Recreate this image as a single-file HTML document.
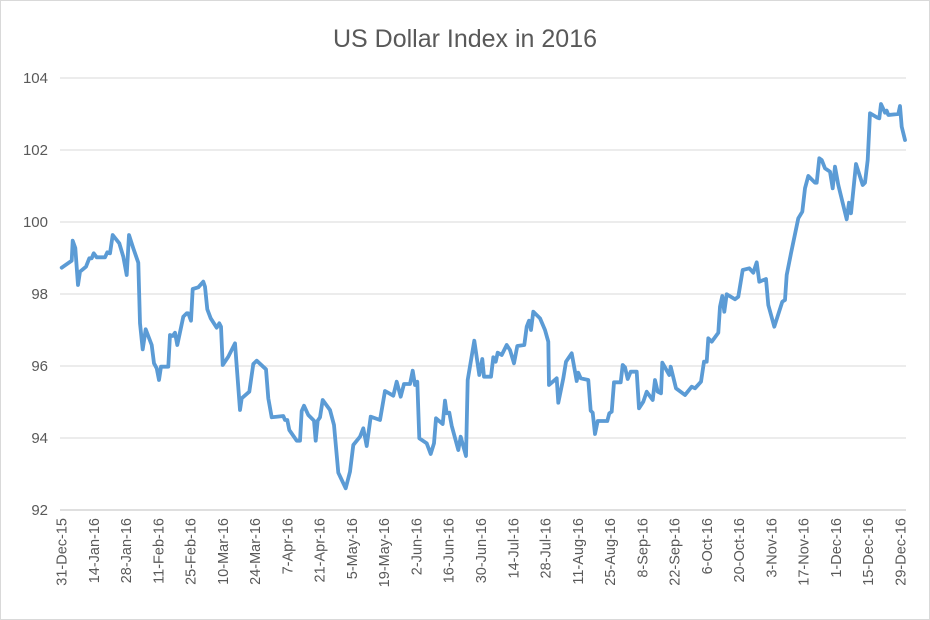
<!DOCTYPE html>
<html><head><meta charset="utf-8"><style>
body{margin:0;background:#fff}
svg{display:block;font-family:"Liberation Sans",sans-serif}
</style></head><body>
<svg width="930" height="620" viewBox="0 0 930 620">
<rect x="0.5" y="0.5" width="929" height="619" fill="#fff" stroke="#d9d9d9"/>
<text x="465" y="47" text-anchor="middle" font-size="25" fill="#595959">US Dollar Index in 2016</text>
<g stroke="#d9d9d9" stroke-width="1">
<line x1="60" y1="78" x2="906" y2="78"/><line x1="60" y1="150" x2="906" y2="150"/>
<line x1="60" y1="222" x2="906" y2="222"/><line x1="60" y1="294" x2="906" y2="294"/>
<line x1="60" y1="366" x2="906" y2="366"/><line x1="60" y1="438" x2="906" y2="438"/>
</g>
<line x1="60" y1="510" x2="906" y2="510" stroke="#bfbfbf"/>
<g font-size="15" fill="#595959" text-anchor="end">
<text x="48" y="83">104</text><text x="48" y="155">102</text><text x="48" y="227">100</text>
<text x="48" y="299">98</text><text x="48" y="371">96</text><text x="48" y="443">94</text><text x="48" y="515">92</text>
</g>
<polyline fill="none" stroke="#5b9bd5" stroke-width="3.8" stroke-linejoin="round" stroke-linecap="round" points="
61.7,267.7 71.7,260.7 72.7,240.7 75.3,248 78,285 80,271.7 86,266.7 89.3,258.3 91.7,258.3 93.7,253.3 96.7,257.3 105,257.3 107.3,252.3 110,253.3 112.7,235 119.3,243.3 123.3,256.7 126.7,275 129,235 133.3,248.3 138.3,262.7 140,323.3 142.7,349.3 145.7,329.3 151.7,345 154,363.3 156.7,368.3 159,380 161,366.7 168.3,366.7 170,335 172.7,336 175,332.7 177.3,345 183.3,316.7 186.7,313.3 188.3,313.3 191,320.7 192.7,289 198.3,287.3 203.3,281.7 205,286.7 207.3,309.3 210.7,318.3 216.7,327.7 219.3,323.3 221,326.7 222.7,365 228.3,356.7 235,343.3 240,410 241.7,398.3 249.3,391.7 253.3,364 256.7,360.7 266,369.3 268.3,398.3 271.7,417.3 276.7,416.7 283.3,416 285,420 287.3,420 289.3,430 296.7,440.7 300,440.7 301.7,411 304,405.7 308.3,415 314,420.7 315.7,440.7 317.7,420.7 320,417.3 322.7,400 330,410 334,425 338.3,472.7 345.7,488.3 350,471.7 353.3,445 360,436.7 363.3,428.3 366.7,446 370.7,416.7 380,420 385,391 393.3,395.7 396.7,381.7 400.7,396.7 404,384 410,384 412.7,370.7 415,385 417.3,381.7 419.3,438.3 426.7,443.3 430.7,454 434,443.3 436,418.3 442.7,424 445,400.7 446.7,413.3 449.3,412.7 451.7,425.7 458.3,450 460.7,436.7 466,456 467.7,380 474.3,340.7 479.3,375 482.3,359 484,376.7 491,376.7 493.3,357.3 495.7,361.7 497.7,352.7 501.7,355 506.7,345 510,350 514,363.3 517.3,346 524.3,345 526.7,326.7 529,320.7 531,330 533.3,311.7 540,318.3 545,330 548.3,341.7 549,385 556.7,378.3 558.3,402.7 563.3,378.3 566,361.7 571.7,353.3 576.7,381 578.3,372.7 580.7,378.3 588.3,380 590.7,410.7 592.7,412.7 595,434 597.7,421 607.3,421 609.3,413.3 611.7,411.7 614,382.3 620.7,382.3 622.7,365 625,367.3 627.7,379 630.7,371.7 636.7,371.7 639,408.3 643.3,401.7 646.7,391.7 652.7,400 655,380 657.7,391.7 661,393.3 662.3,362.7 669.3,375 670.7,366.7 676,388.3 685,395 691.7,386.7 695,388.3 701,381.7 704,361.7 706.7,361.7 708.3,338.3 711.7,341.7 718.3,332.7 720,306.7 722.3,296 724.3,311.7 726.7,294.3 735,299.3 738.3,296.7 742.7,270 749.3,268.3 753.3,272.7 756.7,262.3 759.3,281.7 766,279 768.3,305 774.3,326.7 782.3,301.7 785,300 786.7,275 791,253.3 798.3,218.3 802.3,211.7 805,188.3 808.3,176 815,182.7 816.7,182.7 819.3,158.3 821.7,160 825,168.3 830,171.7 832.7,188.3 835,166.7 838.3,185 846.7,219.3 849,202.7 851,213.3 856,164 862.7,185 865,182.7 867.7,160 870,113.3 876.7,117.3 879.3,118.3 881,104 885,112.7 886.7,110.7 888.3,115 898.3,114 900,106 901.7,126.7 905,140"/>
<g font-size="14.5" fill="#595959" text-anchor="end">
<text transform="translate(66.5,518) rotate(-90)">31-Dec-15</text>
<text transform="translate(98.8,518) rotate(-90)">14-Jan-16</text>
<text transform="translate(131,518) rotate(-90)">28-Jan-16</text>
<text transform="translate(163.3,518) rotate(-90)">11-Feb-16</text>
<text transform="translate(195.6,518) rotate(-90)">25-Feb-16</text>
<text transform="translate(227.9,518) rotate(-90)">10-Mar-16</text>
<text transform="translate(260.1,518) rotate(-90)">24-Mar-16</text>
<text transform="translate(292.4,518) rotate(-90)">7-Apr-16</text>
<text transform="translate(324.7,518) rotate(-90)">21-Apr-16</text>
<text transform="translate(356.9,518) rotate(-90)">5-May-16</text>
<text transform="translate(389.2,518) rotate(-90)">19-May-16</text>
<text transform="translate(421.5,518) rotate(-90)">2-Jun-16</text>
<text transform="translate(453.7,518) rotate(-90)">16-Jun-16</text>
<text transform="translate(486,518) rotate(-90)">30-Jun-16</text>
<text transform="translate(518.3,518) rotate(-90)">14-Jul-16</text>
<text transform="translate(550.5,518) rotate(-90)">28-Jul-16</text>
<text transform="translate(582.8,518) rotate(-90)">11-Aug-16</text>
<text transform="translate(615.1,518) rotate(-90)">25-Aug-16</text>
<text transform="translate(647.3,518) rotate(-90)">8-Sep-16</text>
<text transform="translate(679.6,518) rotate(-90)">22-Sep-16</text>
<text transform="translate(711.9,518) rotate(-90)">6-Oct-16</text>
<text transform="translate(744.1,518) rotate(-90)">20-Oct-16</text>
<text transform="translate(776.4,518) rotate(-90)">3-Nov-16</text>
<text transform="translate(808.7,518) rotate(-90)">17-Nov-16</text>
<text transform="translate(840.9,518) rotate(-90)">1-Dec-16</text>
<text transform="translate(873.2,518) rotate(-90)">15-Dec-16</text>
<text transform="translate(905.5,518) rotate(-90)">29-Dec-16</text>
</g>
</svg>
</body></html>
